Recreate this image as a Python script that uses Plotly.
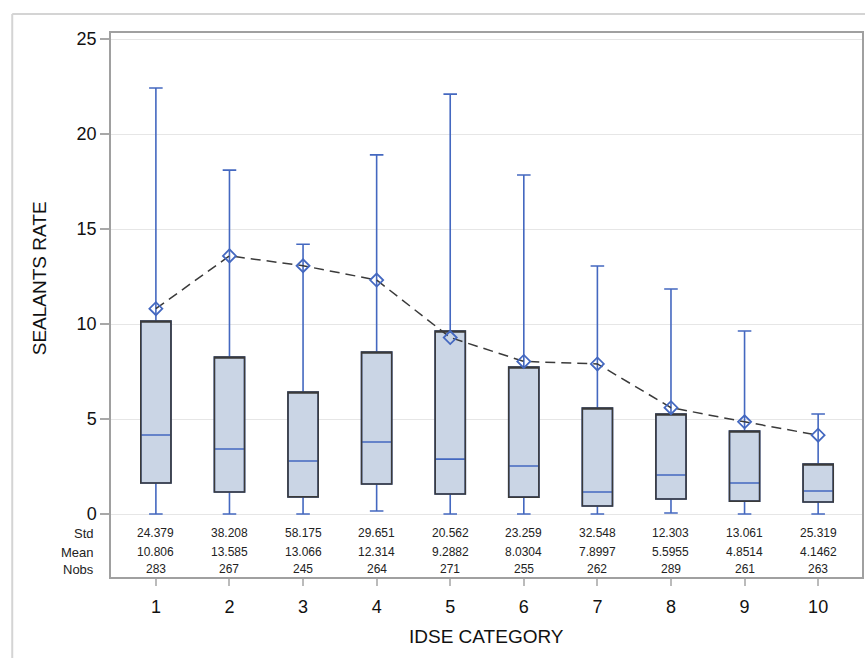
import plotly.graph_objects as go

# IDSE categories and box-plot statistics of the sealants rate
categories = [1, 2, 3, 4, 5, 6, 7, 8, 9, 10]
q1 = [1.63, 1.16, 0.90, 1.58, 1.05, 0.89, 0.42, 0.79, 0.68, 0.63]
median = [4.16, 3.42, 2.79, 3.79, 2.89, 2.53, 1.16, 2.05, 1.63, 1.21]
q3 = [10.16, 8.26, 6.42, 8.53, 9.63, 7.74, 5.58, 5.26, 4.37, 2.63]
whisker_low = [0.0, 0.0, 0.0, 0.16, 0.0, 0.0, 0.0, 0.05, 0.0, 0.0]
whisker_high = [22.42, 18.1, 14.2, 18.9, 22.1, 17.84, 13.05, 11.84, 9.63, 5.26]

# Summary statistics printed under the plot
std_vals = [24.379, 38.208, 58.175, 29.651, 20.562, 23.259, 32.548, 12.303, 13.061, 25.319]
mean_vals = [10.806, 13.585, 13.066, 12.314, 9.2882, 8.0304, 7.8997, 5.5955, 4.8514, 4.1462]
nobs_vals = [283, 267, 245, 264, 271, 255, 262, 289, 261, 263]

y_ticks = [0, 5, 10, 15, 20, 25]
stat_rows = [("Std", std_vals, -1.0), ("Mean", mean_vals, -2.0), ("Nobs", nobs_vals, -2.9)]

BLUE = "#4468C0"
FILL = "#CAD5E5"
DARK = "#3A3A3A"
FONT = "Liberation Sans, Arial, sans-serif"

fig = go.Figure()

# blue whiskers, caps and median
fig.add_trace(go.Box(
    x=categories, q1=q1, median=median, q3=q3,
    lowerfence=whisker_low, upperfence=whisker_high,
    width=0.41, whiskerwidth=0.45,
    fillcolor=FILL, line=dict(color=BLUE, width=1.6),
    boxpoints=False, showlegend=False, hoverinfo="skip",
))
# dark outline of the interquartile box
fig.add_trace(go.Box(
    x=categories, q1=q1, median=q3, q3=q3,
    lowerfence=q1, upperfence=q3,
    width=0.41, whiskerwidth=0,
    fillcolor="rgba(0,0,0,0)", line=dict(color=DARK, width=1.6),
    boxpoints=False, showlegend=False, hoverinfo="skip",
))
# means joined by a dashed line
fig.add_trace(go.Scatter(
    x=categories, y=mean_vals, mode="lines+markers",
    line=dict(color=DARK, width=1.5, dash="10px,6px"),
    marker=dict(symbol="diamond-open", size=10, color=BLUE, line=dict(width=1.8)),
    showlegend=False,
))

annotations = []
for label, vals, yv in stat_rows:
    annotations.append(dict(
        x=-0.02, xref="paper", y=yv, yref="y", text=label, showarrow=False,
        xanchor="right", yanchor="middle", font=dict(size=13, color="#222", family=FONT),
    ))
    for c, v in zip(categories, vals):
        txt = f"{v:.5g}" if isinstance(v, float) else str(v)
        annotations.append(dict(
            x=c, xref="x", y=yv, yref="y", text=txt, showarrow=False,
            xanchor="center", yanchor="middle", font=dict(size=12, color="#222", family=FONT),
        ))

annotations.append(dict(
    x=0.5, xref="paper", y=-0.110, yref="paper", text="IDSE CATEGORY", showarrow=False,
    xanchor="center", yanchor="middle", font=dict(size=19, color="#111", family=FONT),
))
annotations.append(dict(
    x=-0.0956, xref="paper", y=0.5496, yref="paper", text="SEALANTS RATE", showarrow=False,
    textangle=-90, xanchor="center", yanchor="middle", font=dict(size=19, color="#111", family=FONT),
))

# light outer border around the graph
shapes = [
    dict(type="line", xref="paper", yref="paper", x0=-0.1315, x1=-0.1315, y0=-0.16, y1=1.0349,
         line=dict(color="#D4D4D4", width=2)),
    dict(type="line", xref="paper", yref="paper", x0=-0.1315, x1=1.01, y0=1.0349, y1=1.0349,
         line=dict(color="#D4D4D4", width=2)),
]

fig.update_layout(
    width=865, height=658,
    margin=dict(l=111, r=1, t=33, b=81),
    paper_bgcolor="white", plot_bgcolor="white",
    boxmode="overlay",
    font=dict(family=FONT, color="#222"),
    annotations=annotations,
    shapes=shapes,
    xaxis=dict(
        range=[0.390, 10.596], tickvals=categories, ticktext=[str(c) for c in categories],
        ticks="outside", ticklen=7, tickcolor="#BBBBBB", tickwidth=1.5,
        tickfont=dict(size=18, color="#111", family=FONT), ticklabelstandoff=6,
        showline=True, mirror=True, linecolor="#A0A0A0", linewidth=1.5,
        showgrid=False, zeroline=False,
    ),
    yaxis=dict(
        range=[-3.316, 25.316], tickvals=y_ticks,
        ticks="outside", ticklen=9, tickcolor="#A8A8A8", tickwidth=1.5,
        tickfont=dict(size=18, color="#111", family=FONT),
        showline=True, mirror=True, linecolor="#A0A0A0", linewidth=1.5,
        showgrid=True, gridcolor="#E6E6E6", gridwidth=1.2, zeroline=False,
    ),
)

fig.write_html("out.html")
